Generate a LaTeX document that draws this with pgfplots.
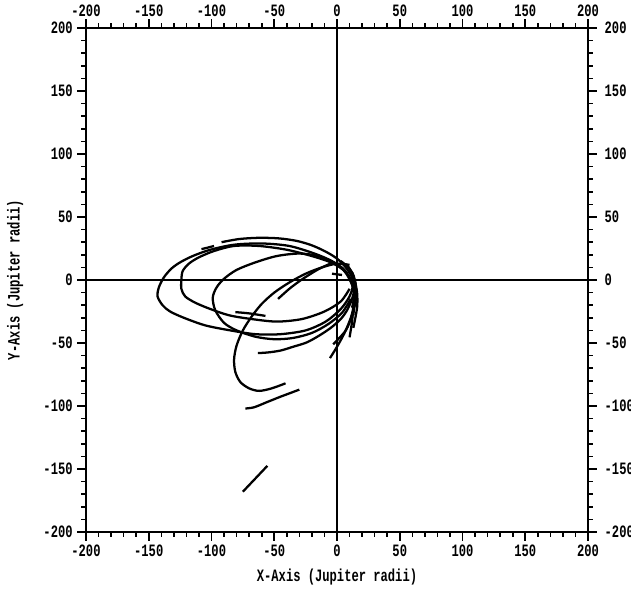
\documentclass[border=0pt]{standalone}
\usepackage{fontspec}
\setmainfont[FakeStretch=0.7]{Liberation Mono}
\usepackage{pgfplots}
\pgfplotsset{compat=1.18}

\pgfplotsset{
  orbitbase/.style={
    width=376.5pt, height=378pt, scale only axis,
    xmin=-200, xmax=200, ymin=-200, ymax=200,
    xtick={-200,-150,-100,-50,0,50,100,150,200},
    ytick={-200,-150,-100,-50,0,50,100,150,200},
    xticklabels={-200,-150,-100,-50,0,50,100,150,200},
    yticklabels={-200,-150,-100,-50,0,50,100,150,200},
    minor tick num=4,
    tick align=outside,
    major tick length=6.5pt, minor tick length=3.5pt,
    every tick/.style={black, line width=1.2pt},
    axis line style={line width=1.8pt},
    ticklabel style={font=\fontsize{13}{13}\selectfont\bfseries},
    label style={font=\fontsize{13}{13}\selectfont\bfseries},
  },
  orb/.style={black, line width=1.7pt, smooth, tension=0.5, no marks},
}

\begin{document}
\begin{tikzpicture}
\begin{axis}[orbitbase,
    xticklabel pos=left, yticklabel pos=left,
    xlabel={X-Axis (Jupiter radii)},
    ylabel={Y-Axis (Jupiter radii)},
    xlabel style={at={(axis description cs:0.5,-0.0893)}, anchor=center},
    ylabel style={at={(axis description cs:-0.141,0.5)}, anchor=center},
  ]
  % zero lines
  \addplot[black, line width=1.8pt, no marks] coordinates {(-200,0) (200,0)};
  \addplot[black, line width=1.8pt, no marks] coordinates {(0,-200) (0,200)};

  % top arc
  \addplot[orb] coordinates {(-92,30) (-78,32.5) (-62,33.5) (-46,33) (-32,31) (-20,27.5) (-9,22.5) (0,17) (7,10) (12,2) (14,-8) (13,-20) (12,-33) (10,-45.5)};
  % short dash
  \addplot[orb] coordinates {(-108,24.5) (-103,25.7) (-98,27)};
  % outer loop
  \addplot[orb] coordinates {(13,-28) (14,-14) (12,-2) (6,8) (-4,15) (-18,21) (-38,27) (-60,29) (-82,28) (-101,24) (-115,19) (-125,14) (-132,9) (-138,2) (-142,-6) (-143,-13) (-139,-20) (-133,-25) (-122,-30) (-105,-36) (-85,-40) (-65,-43) (-45,-43) (-25,-40) (-9,-33) (3,-23) (10,-13) (13,-3) (12,6)};
  % second loop
  \addplot[orb] coordinates {(12,-22) (14,-10) (11,0) (5,8) (-5,14) (-20,19) (-40,24) (-62,27) (-82,27) (-98,23) (-110,18) (-118,13) (-123,7) (-124,0) (-124,-7) (-121,-13) (-113,-18) (-101,-23) (-86,-28) (-68,-31) (-48,-33) (-28,-31) (-10,-25) (3,-17) (10,-7)};
  % third loop
  \addplot[orb] coordinates {(12,-30) (14,-16) (12,-4) (6,7) (-3,14) (-15,19) (-30,21) (-48,19) (-65,14) (-80,8) (-90,1) (-96,-6) (-99,-14) (-97,-24) (-90,-34) (-80,-40) (-65,-45) (-50,-47) (-35,-46) (-20,-42) (-7,-35) (4,-26) (11,-15)};
  % hook
  \addplot[orb] coordinates {(10,12) (0,13) (-12,10) (-25,5) (-38,-2) (-50,-10) (-60,-19) (-68,-29) (-75,-40) (-80,-52) (-82,-63) (-81,-73) (-77,-81) (-70,-86) (-62,-88) (-52,-86) (-41,-82)};
  % lower arc
  \addplot[orb] coordinates {(-73,-102) (-66,-101) (-56,-97) (-46,-93) (-38,-90) (-30,-87)};
  % arc into perijove
  \addplot[orb] coordinates {(-63,-58) (-55,-57.5) (-45,-56) (-35,-53) (-24,-49.5) (-14,-44) (-5,-38) (3,-31) (8,-24) (12,-15) (14,-6) (13,3) (9,10) (3,15)};
  % short pieces
  \addplot[orb] coordinates {(-81,-25.5) (-70,-26.5) (-57,-28.5)};
  \addplot[orb] coordinates {(-47,-15) (-38,-7) (-30,-1) (-24,3) (-14,9) (-3,14)};
  \addplot[orb] coordinates {(-4,5) (4,4)};
  % right-hand bundle
  \addplot[orb] coordinates {(8,12) (13,4) (15,-6) (14,-18) (11,-30) (6,-42) (0,-53) (-5.6,-62)};
  \addplot[orb] coordinates {(12,6) (15,-4) (15,-16) (12,-28) (7,-40) (-3,-51)};
  \addplot[orb] coordinates {(14,0) (16,-10) (16,-22) (13,-38)};
  % isolated segment
  \addplot[orb] coordinates {(-75,-168) (-65,-157.5) (-55.5,-147.5)};

  \coordinate (sw) at (rel axis cs:0,0);
  \coordinate (ne) at (rel axis cs:1,1);
\end{axis}
\begin{axis}[orbitbase,
    xticklabel pos=right, yticklabel pos=right,
    major tick length=0pt, minor tick length=0pt,
    xticklabel style={yshift=5pt},
    yticklabel style={xshift=9pt},
  ]
\end{axis}
\pgfresetboundingbox
\path ([shift={(-64.5pt,-47.25pt)}]sw) rectangle ([shift={(32.25pt,21pt)}]ne);
\end{tikzpicture}
\end{document}
